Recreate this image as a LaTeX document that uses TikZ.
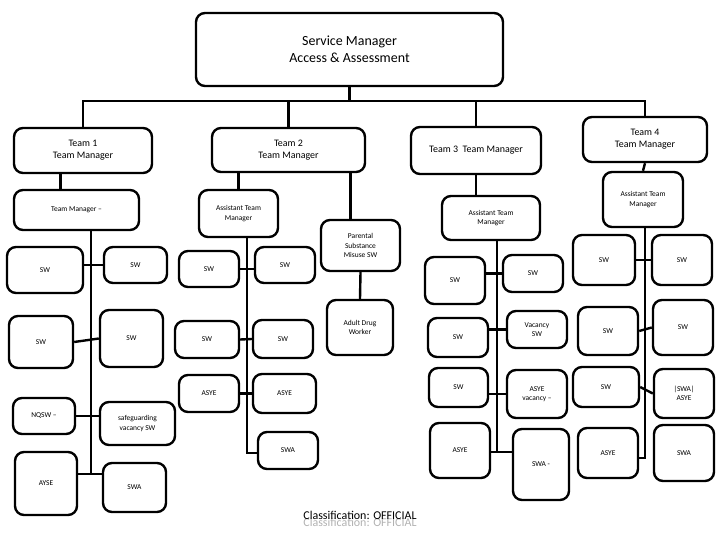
\documentclass[tikz,border=0pt]{standalone}
\usepackage{fontspec}
\setmainfont{Carlito}
\usepackage{tikz}

\begin{document}
\begin{tikzpicture}[x=1bp,y=-1bp,line width=2.4bp,
    box/.style={draw,line width=2.4bp,rounded corners=9bp,align=center,inner sep=1bp},
    sz/.style 2 args={minimum width=#1bp,minimum height=#2bp},
    big/.style={font=\fontsize{14}{17}\selectfont},
    mid/.style={font=\fontsize{10}{12}\selectfont},
    small/.style={font=\fontsize{7.5}{9.5}\selectfont}]
    \useasboundingbox (0,0) rectangle (720,540);

    % top and team managers
    \node[box,big,sz={307}{73}] (SM) at (349.5,49.5) {Service Manager\\Access \& Assessment};
    \node[box,mid,sz={138}{45}] (T1) at (83,150.5) {Team 1\\Team Manager};
    \node[box,mid,sz={153}{44}] (T2) at (288.5,150) {Team 2\\Team Manager};
    \node[box,mid,sz={130}{47}] (T3) at (476,150.5) {Team 3\ \ Team Manager};
    \node[box,mid,sz={124}{45}] (T4) at (645,139.5) {Team 4\\Team Manager};

    \coordinate (bus) at (0,101);
    \draw (SM.south) -- (SM.south |- bus);
    \draw (T1.north) -- (T1.north |- bus) -- (T4.north |- bus) -- (T4.north);
    \draw (T2.north) -- (T2.north |- bus);
    \draw (T3.north) -- (T3.north |- bus);

    % team 1
    \node[box,small,sz={125}{40}] (TM1) at (76.5,210) {Team Manager --};
    \node[box,small,sz={76}{46}] (A1) at (45,270) {SW};
    \node[box,small,sz={63}{36}] (A2) at (135.5,265) {SW};
    \node[box,small,sz={64}{52}] (B1) at (41,342) {SW};
    \node[box,small,sz={63}{57}] (B2) at (131.5,338.5) {SW};
    \node[box,small,sz={62}{36}] (C1) at (44,416) {NQSW --};
    \node[box,small,sz={75}{43}] (C2) at (137.5,423.5) {safeguarding\\vacancy SW};
    \node[box,small,sz={62}{63}] (D1) at (46,483.5) {AYSE};
    \node[box,small,sz={63}{49}] (D2) at (134.5,487.5) {SWA};
    \coordinate (S1) at (91,474);

    \draw ([xshift=-16bp]TM1.north) -- ([xshift=-16bp]TM1.north |- T1.south);
    \draw (TM1.south -| S1) -- (S1);
    \draw (A2.west -| A1.east) -- (A2.west);
    \draw (B1.east) -- (B2.west);
    \draw (C1.east) -- (C1.east -| C2.west);
    \draw (D1.east |- S1) -- (D2.west |- S1);

    % team 2
    \node[box,small,sz={79}{47}] (AT2) at (238.5,213.5) {Assistant Team\\Manager};
    \node[box,small,sz={79}{51}] (PS) at (360.5,245.5) {Parental\\Substance\\Misuse SW};
    \node[box,small,sz={66}{55}] (AD) at (360,327.5) {Adult Drug\\Worker};
    \node[box,small,sz={60}{36}] (E1) at (209,269) {SW};
    \node[box,small,sz={60}{36}] (E2) at (285,265) {SW};
    \node[box,small,sz={64}{37}] (F1) at (207,339.5) {SW};
    \node[box,small,sz={60}{38}] (F2) at (283,339) {SW};
    \node[box,small,sz={60}{37}] (G1) at (209,393.5) {ASYE};
    \node[box,small,sz={63}{39}] (G2) at (284.5,393.5) {ASYE};
    \node[box,small,sz={60}{37}] (H2) at (288,450.5) {SWA};
    \coordinate (S2) at (247,453);

    \draw (AT2.north |- T2.south) -- (AT2.north);
    \draw ([xshift=-10bp]PS.north) -- ([xshift=-10bp]PS.north |- T2.south);
    \draw (PS.south) -- (AD.north);
    \draw (AT2.south -| S2) -- (S2) -- (S2 -| H2.west);
    \draw (E1.east) -- (E1.east -| E2.west);
    \draw (F1.east) -- (F2.west);
    \draw (G1.east) -- (G2.west);

    % team 3
    \node[box,small,sz={98}{44}] (AT3) at (491,218) {Assistant Team\\Manager};
    \node[box,small,sz={60}{47}] (K1) at (455,280.5) {SW};
    \node[box,small,sz={60}{37}] (K2) at (533,273.5) {SW};
    \node[box,small,sz={60}{39}] (L1) at (458,337.5) {SW};
    \node[box,small,sz={60}{37}] (L2) at (537,329.5) {Vacancy\\SW};
    \node[box,small,sz={59}{39}] (M1) at (458.5,387.5) {SW};
    \node[box,small,sz={60}{48}] (M2) at (537,394) {ASYE\\vacancy --};
    \node[box,small,sz={60}{55}] (N1) at (460,450.5) {ASYE};
    \node[box,small,sz={56}{71}] (N2) at (541,464.5) {SWA -};
    \coordinate (S3) at (497,452);

    \draw (T3.south) -- (T3.south |- AT3.north);
    \draw (AT3.south -| S3) -- (S3);
    \draw (K2.west -| K1.east) -- (K2.west);
    \draw (L2.west -| L1.east) -- (L2.west);
    \draw (M2.west -| M1.east) -- (M2.west);
    \draw (N1.east |- S3) -- (N2.west |- S3);

    % team 4
    \node[box,small,sz={80}{55}] (AT4) at (643,199.5) {Assistant Team\\Manager};
    \node[box,small,sz={62}{50}] (P1) at (604,260) {SW};
    \node[box,small,sz={60}{50}] (P2) at (682,260) {SW};
    \node[box,small,sz={60}{48}] (Q1) at (608,331) {SW};
    \node[box,small,sz={60}{55}] (Q2) at (683,327.5) {SW};
    \node[box,small,sz={66}{40}] (R1) at (606,387) {SW};
    \node[box,small,sz={60}{49}] (R2) at (684,393.5) {|SWA|\\ASYE};
    \node[box,small,sz={60}{50}] (U1) at (608,453) {ASYE};
    \node[box,small,sz={60}{56}] (U2) at (684,453) {SWA};
    \coordinate (S4) at (645,458);

    \draw (T4.south) -- (AT4.north);
    \draw (AT4.south -| S4) -- (S4) -- (S4 -| U1.east);
    \draw (P1.east) -- (P2.west);
    \draw (Q1.east) -- (Q2.west);
    \draw (R1.east) -- (R2.west);

    % footer
    \node[font=\fontsize{12}{14}\selectfont,text=gray!60] (CL2) at (360,522) {Classification: OFFICIAL};
    \node[font=\fontsize{12}{14}\selectfont] (CL1) at (360,515) {Classification: OFFICIAL};
\end{tikzpicture}
\end{document}
